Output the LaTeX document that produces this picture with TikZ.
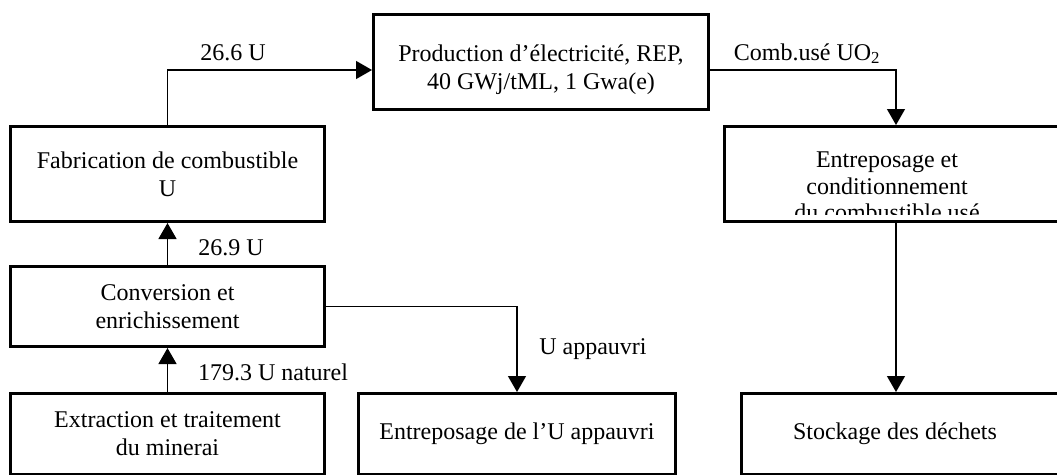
\documentclass[tikz,border=0pt]{standalone}
\usepackage{fontspec}
\setmainfont{Liberation Serif}
\usetikzlibrary{arrows.meta,positioning}

\tikzset{
  stage/.style={draw,line width=3pt,align=center,inner sep=2pt,
    font=\fontsize{24}{28}\selectfont},
  flow/.style={line width=1.3pt,-{Triangle[width=18pt,length=16pt]}},
  qty/.style={anchor=base,inner sep=0pt,font=\fontsize{24}{28}\selectfont}
}

\begin{document}
\begin{tikzpicture}[x=1pt,y=-1pt]
\path[use as bounding box,fill=white] (0,0) rectangle (1057,474);
\clip (0,0) rectangle (1057,474);

% front end
\node[stage,minimum width=335pt,minimum height=95pt] (prod) at (541,61.5) {\rule{0pt}{34pt}Production d’électricité, REP,\\40 GWj/tML, 1 Gwa(e)};
\node[stage,minimum width=314pt,minimum height=95pt] (fab) at (167.5,174) {Fabrication de combustible\\U};
\node[stage,minimum width=314pt,minimum height=80pt] (conv) at (167.5,306.5) {Conversion et\\enrichissement};
\node[stage,minimum width=314pt,minimum height=81pt] (extr) at (167.5,434) {Extraction et traitement\\du minerai};
\node[stage,minimum width=317pt,minimum height=81pt] (depl) at (517,434) {Entreposage de l’U appauvri};

% back end
\coordinate (cut) at (0,214);
\node[stage,minimum width=343pt,minimum height=95pt] (entr) at (896,174) {};
\begin{scope}
  \clip (entr.north west) rectangle (entr.east |- cut);
  \node[anchor=north,align=center,inner sep=0pt,font=\fontsize{24}{26.5}\selectfont] (entrtxt) at (887,152) {Entreposage et\\conditionnement\\du combustible usé};
\end{scope}
\node[stage,minimum width=327pt,minimum height=81pt] (stock) at (905,434) {Stockage des déchets\hspace*{20pt}};

\draw[flow] (fab.north) |- ([yshift=-8.5pt]prod.west);
\draw[flow] ([yshift=-8.5pt]prod.east) -| (entr.north);
\draw[flow] (conv.north) -- (fab.south);
\draw[flow] (extr.north) -- (conv.south);
\draw[flow] (conv.east) -| (depl.north);
\draw[flow] (entr.south) -- (entr.south |- stock.north);

\node[qty] (l266) at (233,60) {26.6 U};
\node[qty] (lcomb) at (807,60) {Comb.usé UO\textsubscript{2}};
\node[qty] (l269) at (231,255) {26.9 U};
\node[qty] (l1793) at (273,380) {179.3 U naturel};
\node[qty] (lappauvri) at (593,354) {U appauvri};
\end{tikzpicture}
\end{document}
